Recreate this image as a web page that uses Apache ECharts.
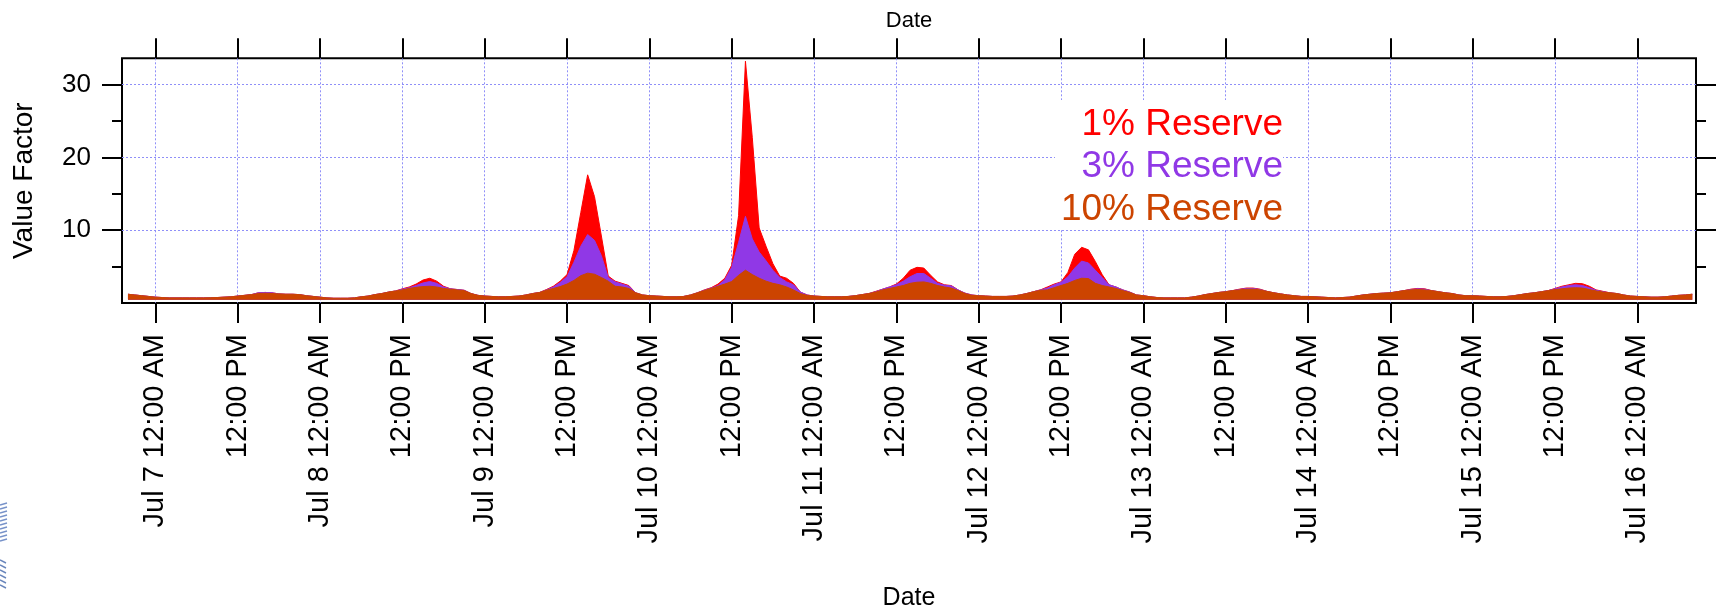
<!DOCTYPE html>
<html>
<head>
<meta charset="utf-8">
<title>Value Factor by Reserve Margin</title>
<script src="https://cdn.jsdelivr.net/npm/echarts@6/dist/echarts.min.js"></script>
<style>
  html, body { margin: 0; padding: 0; background: #fff; }
  #chart { width: 1719px; height: 612px; }
</style>
</head>
<body>
<div id="chart"></div>
<script>
// Hourly samples; the first one is Jul 6, 8:00 PM (hour -4 relative to Jul 7 12:00 AM).
const HOUR_START = -4;

// Value factor, 1% reserve
const reserve1 = [
  1.2, 1.1, 1.0, 0.9,
  0.8, 0.75, 0.7, 0.7, 0.7, 0.7, 0.7, 0.7, 0.72, 0.75, 0.8, 0.85, 0.95, 1.05, 1.15, 1.4, 1.45, 1.4, 1.25, 1.2, 1.2, 1.15, 1.0, 0.9,
  0.8, 0.7, 0.65, 0.65, 0.65, 0.7, 0.85, 0.95, 1.15, 1.3, 1.5, 1.65, 1.95, 2.2, 2.6, 3.15, 3.4, 3.0, 2.3, 1.95, 1.85, 1.75, 1.3, 1.05,
  0.95, 0.9, 0.85, 0.85, 0.9, 0.95, 1.1, 1.3, 1.45, 1.85, 2.3, 3.0, 3.9, 7.2, 12.4, 17.6, 14.6, 9.2, 3.7, 3.0, 2.7, 2.4, 1.4, 1.1,
  1.0, 0.95, 0.9, 0.85, 0.85, 0.9, 1.1, 1.4, 1.8, 2.1, 2.6, 3.4, 5.2, 12.0, 33.2, 22.7, 10.3, 7.8, 5.4, 3.7, 3.4, 2.7, 1.5, 1.1,
  0.95, 0.9, 0.85, 0.85, 0.85, 0.9, 1.0, 1.15, 1.3, 1.6, 1.9, 2.2, 2.6, 3.4, 4.5, 4.9, 4.8, 3.8, 2.9, 2.5, 2.4, 1.8, 1.35, 1.1,
  1.0, 0.95, 0.9, 0.9, 0.9, 0.95, 1.1, 1.3, 1.55, 1.8, 2.2, 2.6, 2.9, 4.2, 6.7, 7.65, 7.3, 5.7, 3.9, 2.5, 2.2, 1.8, 1.5, 1.1,
  1.0, 0.85, 0.75, 0.7, 0.7, 0.7, 0.7, 0.8, 0.95, 1.15, 1.3, 1.45, 1.55, 1.7, 1.9, 2.05, 2.05, 1.9, 1.6, 1.4, 1.25, 1.1, 1.0, 0.9,
  0.9, 0.85, 0.8, 0.75, 0.7, 0.75, 0.8, 0.95, 1.1, 1.2, 1.3, 1.35, 1.4, 1.55, 1.7, 1.9, 2.0, 1.95, 1.7, 1.55, 1.4, 1.3, 1.1, 1.0,
  1.0, 0.95, 0.9, 0.85, 0.85, 0.9, 1.0, 1.15, 1.3, 1.4, 1.55, 1.7, 2.0, 2.3, 2.5, 2.7, 2.65, 2.3, 1.8, 1.6, 1.4, 1.3, 1.1, 0.95,
  0.9, 0.85, 0.8, 0.8, 0.85, 0.95, 1.05, 1.1, 1.2
];

// Value factor, 3% reserve
const reserve3 = [
  1.2, 1.1, 1.0, 0.9,
  0.8, 0.75, 0.7, 0.7, 0.7, 0.7, 0.7, 0.7, 0.72, 0.75, 0.8, 0.85, 0.95, 1.05, 1.15, 1.4, 1.45, 1.4, 1.25, 1.2, 1.2, 1.15, 1.0, 0.9,
  0.8, 0.7, 0.65, 0.65, 0.65, 0.7, 0.85, 0.95, 1.15, 1.3, 1.5, 1.65, 1.9, 2.1, 2.4, 2.75, 2.95, 2.7, 2.2, 1.95, 1.85, 1.75, 1.3, 1.05,
  0.95, 0.9, 0.85, 0.85, 0.9, 0.95, 1.1, 1.3, 1.45, 1.8, 2.2, 2.8, 3.6, 5.6, 7.8, 9.4, 8.6, 6.5, 3.5, 2.9, 2.6, 2.3, 1.4, 1.1,
  1.0, 0.95, 0.9, 0.85, 0.85, 0.9, 1.1, 1.4, 1.75, 2.05, 2.4, 3.2, 4.9, 8.3, 11.9, 8.8, 7.0, 5.8, 4.5, 3.5, 2.9, 2.5, 1.5, 1.1,
  0.95, 0.9, 0.85, 0.85, 0.85, 0.9, 1.0, 1.15, 1.3, 1.55, 1.9, 2.2, 2.5, 3.0, 3.6, 4.05, 4.05, 3.4, 2.7, 2.45, 2.35, 1.8, 1.35, 1.1,
  1.0, 0.95, 0.9, 0.9, 0.9, 0.95, 1.1, 1.3, 1.55, 1.8, 2.05, 2.5, 2.85, 3.6, 4.8, 5.75, 5.5, 4.5, 3.5, 2.5, 2.2, 1.8, 1.5, 1.1,
  1.0, 0.85, 0.75, 0.7, 0.7, 0.7, 0.7, 0.8, 0.95, 1.15, 1.3, 1.45, 1.55, 1.7, 1.85, 2.0, 2.0, 1.85, 1.6, 1.4, 1.25, 1.1, 1.0, 0.9,
  0.9, 0.85, 0.8, 0.75, 0.7, 0.75, 0.8, 0.95, 1.1, 1.2, 1.3, 1.35, 1.4, 1.55, 1.7, 1.85, 1.95, 1.9, 1.7, 1.55, 1.4, 1.3, 1.1, 1.0,
  1.0, 0.95, 0.9, 0.85, 0.85, 0.9, 1.0, 1.15, 1.3, 1.4, 1.55, 1.7, 1.95, 2.2, 2.4, 2.5, 2.4, 2.1, 1.75, 1.55, 1.4, 1.3, 1.1, 0.95,
  0.9, 0.85, 0.8, 0.8, 0.85, 0.95, 1.05, 1.1, 1.2
];

// Value factor, 10% reserve
const reserve10 = [
  1.2, 1.1, 1.0, 0.9,
  0.8, 0.75, 0.7, 0.7, 0.7, 0.7, 0.7, 0.7, 0.72, 0.75, 0.8, 0.85, 0.95, 1.05, 1.15, 1.3, 1.35, 1.3, 1.25, 1.2, 1.2, 1.15, 1.0, 0.9,
  0.8, 0.7, 0.65, 0.65, 0.65, 0.7, 0.85, 0.95, 1.15, 1.3, 1.5, 1.65, 1.8, 2.0, 2.15, 2.25, 2.3, 2.2, 2.0, 1.9, 1.8, 1.7, 1.3, 1.05,
  0.95, 0.9, 0.85, 0.85, 0.9, 0.95, 1.1, 1.3, 1.45, 1.75, 2.0, 2.25, 2.6, 3.1, 3.75, 4.1, 3.95, 3.5, 3.0, 2.3, 2.2, 2.0, 1.4, 1.1,
  1.0, 0.95, 0.9, 0.85, 0.85, 0.9, 1.1, 1.4, 1.7, 2.0, 2.3, 2.6, 2.95, 3.8, 4.5, 3.9, 3.4, 3.0, 2.7, 2.5, 2.2, 1.8, 1.3, 1.05,
  0.95, 0.9, 0.85, 0.85, 0.85, 0.9, 1.0, 1.15, 1.3, 1.5, 1.8, 2.0, 2.2, 2.4, 2.7, 2.85, 2.9, 2.7, 2.4, 2.2, 2.05, 1.7, 1.3, 1.05,
  1.0, 0.95, 0.9, 0.9, 0.9, 0.95, 1.1, 1.3, 1.55, 1.75, 1.8, 2.1, 2.4, 2.7, 3.1, 3.4, 3.35, 2.7, 2.4, 2.2, 2.0, 1.7, 1.45, 1.1,
  1.0, 0.85, 0.75, 0.7, 0.7, 0.7, 0.7, 0.8, 0.95, 1.15, 1.3, 1.45, 1.55, 1.7, 1.8, 1.9, 1.9, 1.8, 1.6, 1.4, 1.25, 1.1, 1.0, 0.9,
  0.9, 0.85, 0.8, 0.75, 0.7, 0.75, 0.8, 0.95, 1.1, 1.2, 1.3, 1.35, 1.4, 1.55, 1.7, 1.8, 1.85, 1.8, 1.7, 1.55, 1.4, 1.3, 1.1, 1.0,
  1.0, 0.95, 0.9, 0.85, 0.85, 0.9, 1.0, 1.15, 1.3, 1.4, 1.55, 1.7, 1.85, 1.95, 2.05, 2.1, 2.05, 1.85, 1.65, 1.5, 1.4, 1.3, 1.1, 0.95,
  0.9, 0.85, 0.8, 0.8, 0.85, 0.95, 1.05, 1.1, 1.2
];

// Date axis ticks (hours after Jul 7 12:00 AM) and their labels
const tickHours = [0, 12, 24, 36, 48, 60, 72, 84, 96, 108, 120, 132, 144, 156, 168, 180, 192, 204, 216];
const tickLabels = [
  'Jul 7 12:00 AM', '12:00 PM', 'Jul 8 12:00 AM', '12:00 PM', 'Jul 9 12:00 AM', '12:00 PM',
  'Jul 10 12:00 AM', '12:00 PM', 'Jul 11 12:00 AM', '12:00 PM', 'Jul 12 12:00 AM', '12:00 PM',
  'Jul 13 12:00 AM', '12:00 PM', 'Jul 14 12:00 AM', '12:00 PM', 'Jul 15 12:00 AM', '12:00 PM',
  'Jul 16 12:00 AM'
];

// Value axis ticks
const yMajorTicks = [10, 20, 30];
const yMinorTicks = [5, 15, 25];

const seriesNames = ['1% Reserve', '3% Reserve', '10% Reserve'];
const seriesColors = ['#ff0000', '#9038e6', '#cc4400'];

const X_MIN = -4.87, X_MAX = 224.55;
const Y_MIN = 0, Y_MAX = 33.6;
const FONT = '"Liberation Sans", Arial, sans-serif';

const toPoints = vals => vals.map((v, i) => [HOUR_START + i, v]);

const gridLine = { show: true, lineStyle: { color: '#8f8ff8', width: 1, type: [2, 2] } };
const tickStyle = { color: '#000', width: 2 };

function xAxis(position, withLabels) {
  return {
    type: 'value', position, min: X_MIN, max: X_MAX,
    axisLine: { show: false, onZero: false },
    axisTick: { show: true, inside: false, length: 20, lineStyle: tickStyle, customValues: tickHours },
    axisLabel: withLabels ? {
      show: true, rotate: 90, margin: 31, color: '#000', fontSize: 29, fontFamily: FONT,
      customValues: tickHours,
      formatter: v => tickLabels[tickHours.indexOf(Math.round(v))] || ''
    } : { show: false },
    splitLine: withLabels ? gridLine : { show: false },
    name: 'Date', nameLocation: 'middle',
    nameGap: position === 'top' ? 26 : 283,
    nameTextStyle: { color: '#000', fontFamily: FONT, fontSize: position === 'top' ? 22 : 25 }
  };
}

function yAxis(position, ticks, len, opts) {
  return Object.assign({
    type: 'value', position, min: Y_MIN, max: Y_MAX,
    axisLine: { show: false, onZero: false },
    axisTick: { show: true, inside: false, length: len, lineStyle: tickStyle, customValues: ticks },
    axisLabel: { show: false },
    splitLine: { show: false }
  }, opts || {});
}

const chart = echarts.init(document.getElementById('chart'), null, { renderer: 'canvas' });

chart.setOption({
  animation: false,
  backgroundColor: '#fff',
  grid: {
    left: 122, right: 23, top: 58.3, bottom: 305.3,
    show: true, borderColor: '#000', borderWidth: 2, backgroundColor: 'transparent'
  },
  xAxis: [xAxis('bottom', true), xAxis('top', false)],
  yAxis: [
    yAxis('left', yMajorTicks, 20, {
      axisLabel: { show: true, customValues: yMajorTicks, margin: 31, color: '#000', fontSize: 26, fontFamily: FONT },
      splitLine: gridLine,
      name: 'Value Factor', nameLocation: 'middle', nameGap: 84,
      nameTextStyle: { color: '#000', fontFamily: FONT, fontSize: 28 }
    }),
    yAxis('left', yMinorTicks, 10),
    yAxis('right', yMajorTicks, 20),
    yAxis('right', yMinorTicks, 10)
  ],
  series: [reserve1, reserve3, reserve10].map((vals, k) => ({
    name: seriesNames[k],
    type: 'line',
    xAxisIndex: 0, yAxisIndex: 0,
    data: toPoints(vals),
    showSymbol: false,
    symbol: 'none',
    z: 2 + k,
    lineStyle: { color: seriesColors[k], width: 1 },
    areaStyle: { color: seriesColors[k], opacity: 1, origin: 0.45 },
    emphasis: { disabled: true },
    silent: true
  })),
  graphic: [
    // white panel behind the key text
    { type: 'rect', z: 50, shape: { x: 1055, y: 100, width: 228, height: 130 }, style: { fill: '#fff' } },
    ...seriesNames.map((name, k) => ({
      type: 'text', z: 51, x: 1283, y: [124.5, 166.5, 209.5][k],
      style: { text: name, fill: seriesColors[k], font: '37px ' + FONT, align: 'right', verticalAlign: 'middle' }
    })),
    // edge of the logo at the lower left
    ...[0, 1, 2, 3, 4, 5, 6, 7, 8, 9].map(i => ({
      type: 'line', z: 1,
      shape: { x1: 0, y1: 505 + i * 4, x2: 7, y2: 503 + i * 4 },
      style: { stroke: '#5577bb', lineWidth: 1.5, opacity: 0.8 }
    })),
    ...[0, 1, 2, 3, 4, 5].map(i => ({
      type: 'line', z: 1,
      shape: { x1: 0, y1: 560 + i * 5, x2: 6, y2: 563 + i * 5 },
      style: { stroke: '#4466aa', lineWidth: 1.5, opacity: 0.8 }
    }))
  ]
});
</script>
</body>
</html>
